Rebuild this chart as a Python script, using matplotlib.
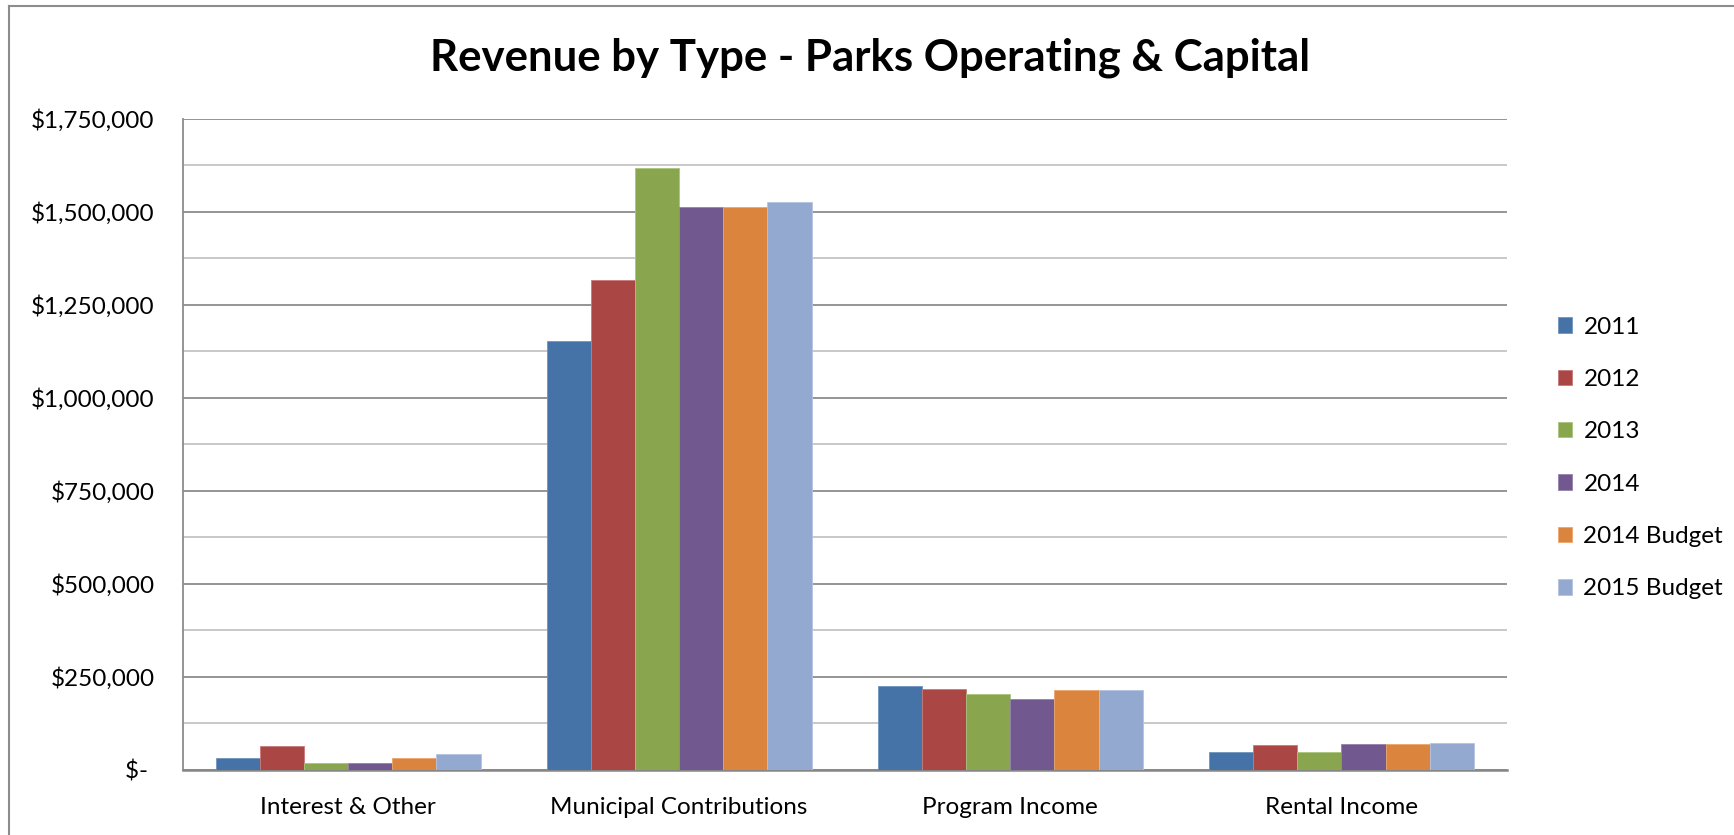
import matplotlib
matplotlib.use("Agg")
import matplotlib.pyplot as plt
import numpy as np
from matplotlib.ticker import FuncFormatter, MultipleLocator
from matplotlib.lines import Line2D

plt.rcParams['font.family'] = ['Lato', 'DejaVu Sans']

categories = ["Interest & Other", "Municipal Contributions", "Program Income", "Rental Income"]
series_names = ["2011", "2012", "2013", "2014", "2014 Budget", "2015 Budget"]

rev_2011 = [31500, 1152000, 225000, 47600]
rev_2012 = [62000, 1316000, 216000, 64700]
rev_2013 = [18000, 1618000, 203000, 46700]
rev_2014 = [18000, 1512000, 190600, 69200]
rev_2014_budget = [31500, 1512000, 215000, 68300]
rev_2015_budget = [43000, 1525000, 213000, 71900]

series_values = [rev_2011, rev_2012, rev_2013, rev_2014, rev_2014_budget, rev_2015_budget]
colors = ["#4572A7", "#AA4643", "#89A54E", "#71588F", "#DB843D", "#93A9CF"]
edge_colors = ["#6f93c0", "#c87a78", "#a9c47a", "#9582ad", "#eaa56e", "#b3c4e0"]

W, H = 1734, 835
fig = plt.figure(figsize=(W / 100, H / 100), dpi=100)
ax = fig.add_axes([182.5 / W, 1 - 769.5 / H, (1507 - 182.5) / W, (769.5 - 118.5) / H])

x = np.arange(len(categories))
n = len(series_names)
bw = 0.8 / n
for i, (name, vals) in enumerate(zip(series_names, series_values)):
    offs = (i - (n - 1) / 2) * bw
    ax.bar(x + offs, vals, width=bw, color=colors[i], edgecolor=edge_colors[i],
           linewidth=0.6, label=name, zorder=3)

ax.set_xlim(-0.5, len(categories) - 0.5)
ax.set_ylim(0, 1750000)
ax.yaxis.set_major_locator(MultipleLocator(250000))
ax.yaxis.set_minor_locator(MultipleLocator(125000))


def money(v, pos):
    if v == 0:
        return "$- "
    return "${:,.0f}".format(v)


ax.yaxis.set_major_formatter(FuncFormatter(money))
ax.grid(axis='y', which='major', color='#8c8c8c', linewidth=1.3, zorder=0)
ax.grid(axis='y', which='minor', color='#c4c4c4', linewidth=1.3, zorder=0)
ax.set_axisbelow(True)

fs = 17.5
ax.set_xticks(x)
ax.set_xticklabels(categories)
ax.tick_params(axis='x', length=0, pad=20, labelsize=fs)
ax.tick_params(axis='y', which='both', length=0, pad=20, labelsize=fs)

for s in ['top', 'right']:
    ax.spines[s].set_visible(False)
ax.spines['left'].set_color('#8c8c8c')
ax.spines['left'].set_linewidth(1.3)
ax.spines['bottom'].set_color('#868686')
ax.spines['bottom'].set_linewidth(1.8)

fig.text(870 / W, 1 - 58 / H, "Revenue by Type - Parks Operating & Capital",
         ha='center', va='center', fontsize=31.5, fontweight='bold')

leg = fig.legend(loc='center left', bbox_to_anchor=(1536 / W, 1 - 458 / H),
                 frameon=False, fontsize=fs, handlelength=0.6, handleheight=0.6,
                 handletextpad=0.45, labelspacing=1.29)

# outer chart frame
fig.add_artist(Line2D([9 / W, 9 / W], [0, 1 - 6 / H], transform=fig.transFigure,
                      color='#8c8c8c', linewidth=1.5))
fig.add_artist(Line2D([9 / W, 1], [1 - 6 / H, 1 - 6 / H], transform=fig.transFigure,
                      color='#8c8c8c', linewidth=1.5))

fig.savefig("out.png", dpi=100, facecolor='white')
